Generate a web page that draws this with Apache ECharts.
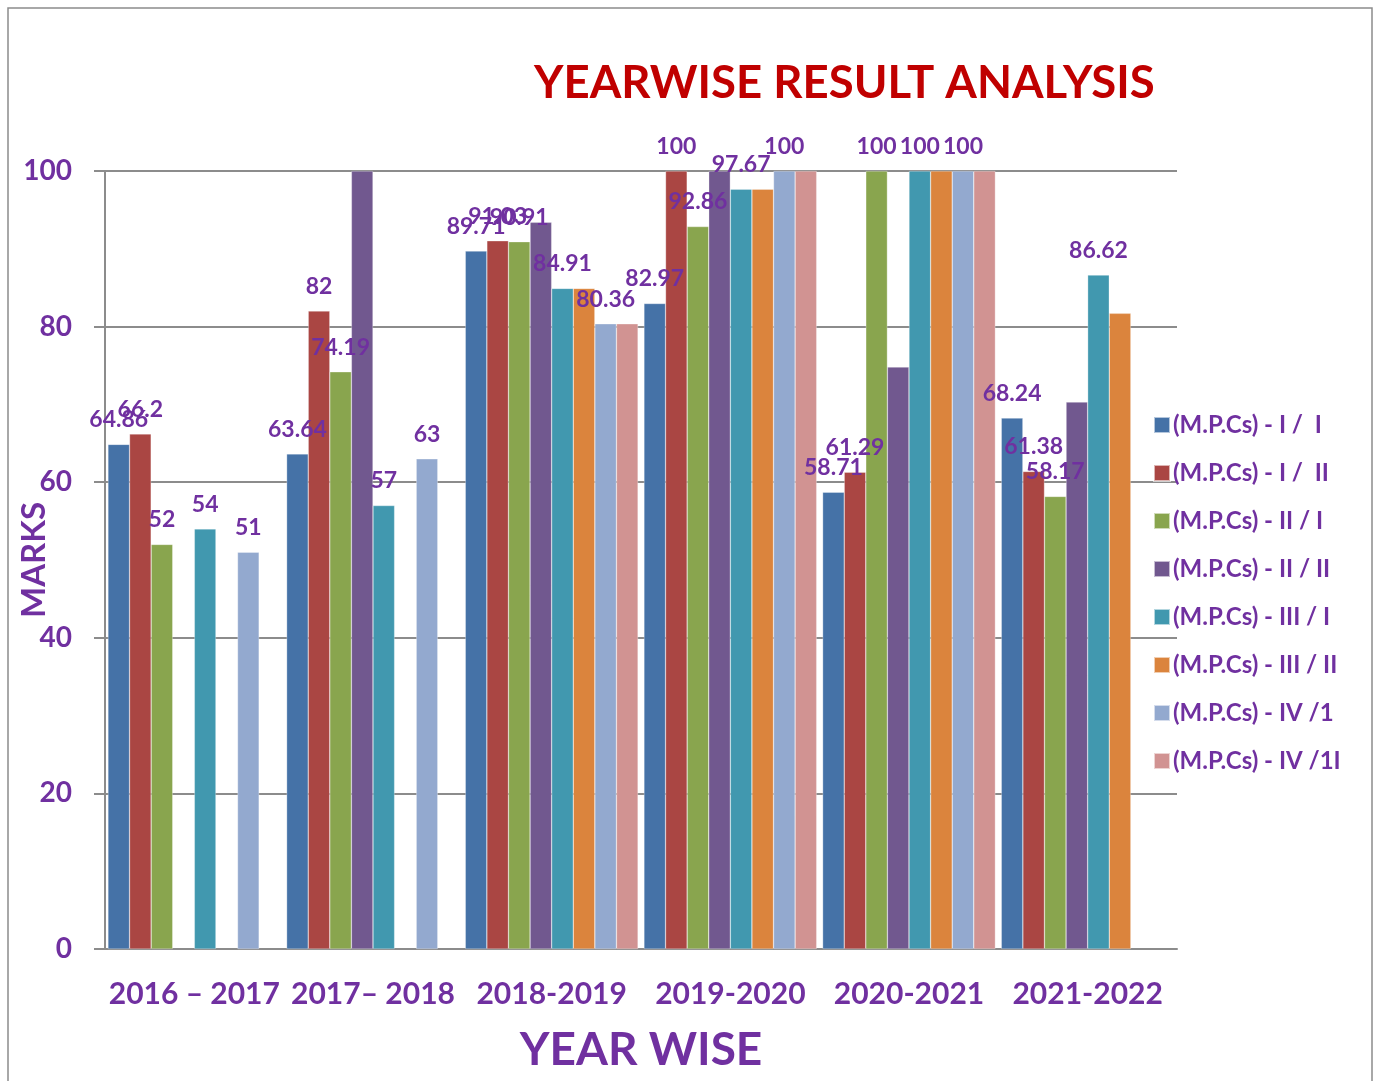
<!DOCTYPE html>
<html>
<head>
<meta charset="utf-8">
<script src="https://cdn.jsdelivr.net/npm/echarts@6/dist/echarts.min.js"></script>
<style>
html, body { margin: 0; padding: 0; background: #fff; }
#main { width: 1378px; height: 1081px; }
</style>
</head>
<body>
<div id="main"></div>
<script>
var years = [ '2016 \u2013 2017', '2017\u2013 2018', '2018-2019', '2019-2020', '2020-2021', '2021-2022' ];

var seriesNames = [ '(M.P.Cs) - I /  I', '(M.P.Cs) - I /  II', '(M.P.Cs) - II / I',
		'(M.P.Cs) - II / II', '(M.P.Cs) - III / I', '(M.P.Cs) - III / II',
		'(M.P.Cs) - IV /1', '(M.P.Cs) - IV /1I' ];

var mpc1_1 = [ 64.86, 63.64, 89.71, 82.97, 58.71, 68.24 ];
var mpc1_2 = [ 66.2, 82, 91.03, 100, 61.29, 61.38 ];
var mpc2_1 = [ 52, 74.19, 90.91, 92.86, 100, 58.17 ];
var mpc2_2 = [ null, 100, 93.4, 100, 74.8, 70.3 ];
var mpc3_1 = [ 54, 57, 84.91, 97.67, 100, 86.62 ];
var mpc3_2 = [ null, null, 84.91, 97.67, 100, 81.7 ];
var mpc4_1 = [ 51, 63, 80.36, 100, 100, null ];
var mpc4_2 = [ null, null, 80.36, 100, 100, null ];

var yTicks = [ 0, 20, 40, 60, 80, 100 ];

var allData = [ mpc1_1, mpc1_2, mpc2_1, mpc2_2, mpc3_1, mpc3_2, mpc4_1, mpc4_2 ];
var colors = [ '#4572A7', '#AA4643', '#89A54E', '#71588F', '#4198AF', '#DB843D', '#93A9CF', '#D19392' ];
// which series had labels in the original
var showLabels = [ true, true, true, false, true, false, true, false ];

var purple = '#7030A0';
var font = 'Lato';

var chart = echarts.init(document.getElementById('main'));

var series = [];
for (var i = 0; i < allData.length; i++) {
	series.push({
		name : seriesNames[i],
		type : 'bar',
		data : allData[i],
		barGap : '0%',
		barCategoryGap : '3.3%',
		itemStyle : {
			color : colors[i],
			borderColor : 'rgba(255,255,255,0.6)',
			borderWidth : 0.5
		},
		label : {
			show : showLabels[i],
			position : 'top',
			distance : 13,
			color : purple,
			fontFamily : font,
			fontWeight : 'bold',
			fontSize : 23
		}
	});
}

chart.setOption({
	animation : false,
	backgroundColor : '#fff',
	title : {
		text : 'YEARWISE RESULT ANALYSIS',
		left : 529,
		top : 55,
		textStyle : {
			color : '#C00000',
			fontFamily : font,
			fontWeight : 'bold',
			fontSize : 45.5
		}
	},
	graphic : [ {
		type : 'rect',
		shape : { x : 8, y : 8, width : 1364, height : 1090 },
		style : { fill : 'none', stroke : '#8c8c8c', lineWidth : 1.5 },
		silent : true
	} ],
	legend : {
		orient : 'vertical',
		left : 1148,
		top : 408,
		itemGap : 24,
		itemWidth : 16,
		itemHeight : 16,
		icon : 'rect',
		data : seriesNames,
		textStyle : {
			color : purple,
			fontFamily : font,
			fontWeight : 'bold',
			fontSize : 24,
			padding : [ 0, 0, 0, -2 ]
		}
	},
	grid : {
		left : 105,
		right : 201,
		top : 171,
		bottom : 132,
		outerBoundsMode : 'none'
	},
	xAxis : {
		type : 'category',
		data : years,
		name : 'YEAR WISE',
		nameLocation : 'middle',
		nameGap : 78,
		nameMoveOverlap : false,
		nameTextStyle : {
			color : purple,
			fontFamily : font,
			fontWeight : 'bold',
			fontSize : 46
		},
		axisLine : { lineStyle : { color : '#8c8c8c', width : 2 } },
		axisTick : { show : false },
		axisLabel : {
			color : purple,
			fontFamily : font,
			fontWeight : 'bold',
			fontSize : 30,
			margin : 30,
			interval : 0
		}
	},
	yAxis : {
		type : 'value',
		min : yTicks[0],
		max : yTicks[yTicks.length - 1],
		interval : 20,
		name : 'MARKS',
		nameLocation : 'middle',
		nameGap : 54,
		nameMoveOverlap : false,
		nameTextStyle : {
			color : purple,
			fontFamily : font,
			fontWeight : 'bold',
			fontSize : 33
		},
		axisLine : { show : true, lineStyle : { color : '#8c8c8c', width : 2 } },
		axisTick : { show : true, length : 11, lineStyle : { color : '#8c8c8c', width : 2 } },
		splitLine : { lineStyle : { color : '#8c8c8c', width : 2 } },
		axisLabel : {
			color : purple,
			fontFamily : font,
			fontWeight : 'bold',
			fontSize : 28,
			margin : 33
		}
	},
	series : series
});
</script>
</body>
</html>
